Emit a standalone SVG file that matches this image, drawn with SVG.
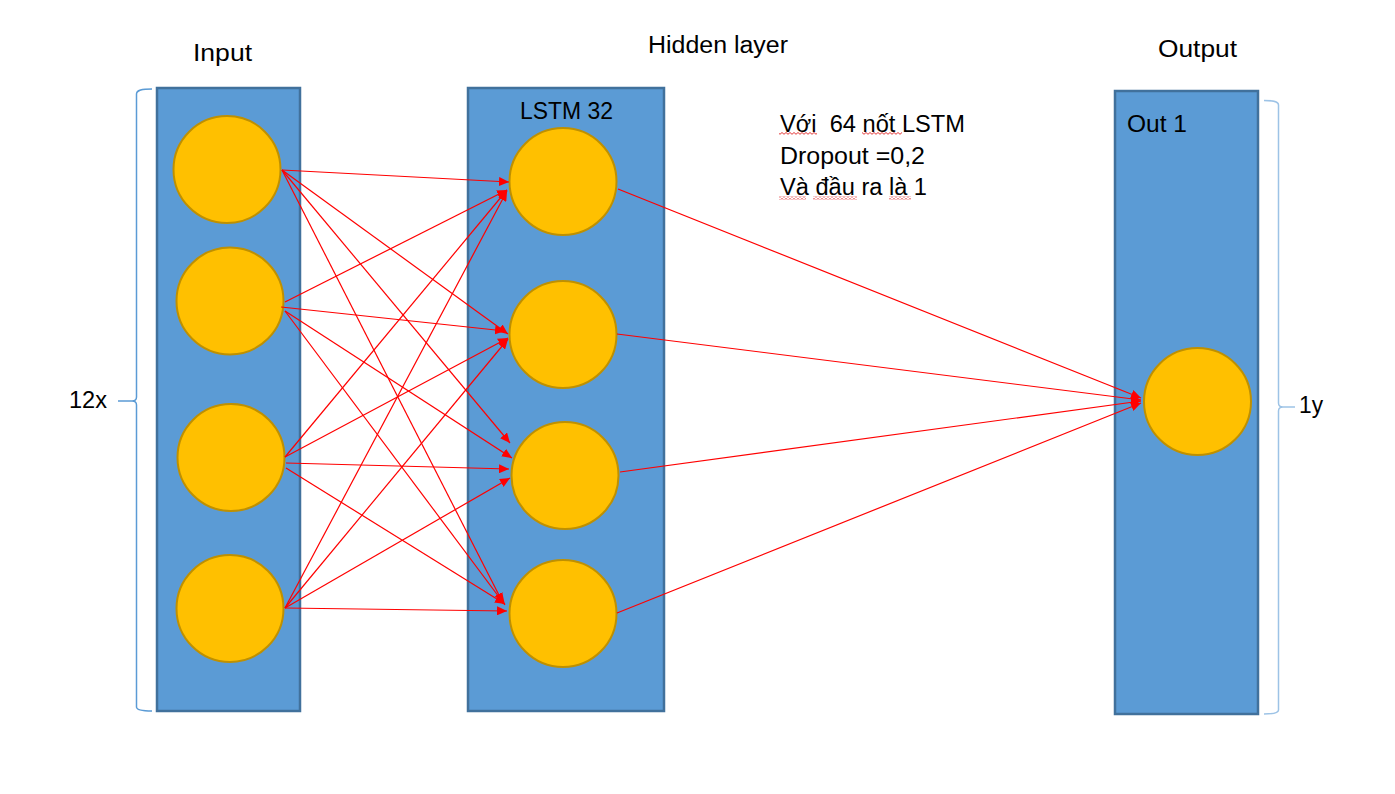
<svg xmlns="http://www.w3.org/2000/svg" width="1395" height="794" viewBox="0 0 1395 794">
<style>
.layer{fill:#5B9BD5;stroke:#41719C;stroke-width:2.5}
.node{fill:#FFC000;stroke:#BF9000;stroke-width:2}
.lbl{font-family:"Liberation Sans",Arial,sans-serif;font-size:23px;fill:#000}
.note{font-family:"Liberation Sans",Arial,sans-serif;font-size:23.5px;fill:#000;white-space:pre}
.edge{stroke:#FF0000;stroke-width:1.2;fill:none;marker-end:url(#arr)}
.brace{fill:none;stroke-width:1.5}
</style>
<defs>
<marker id="arr" markerUnits="userSpaceOnUse" markerWidth="11" markerHeight="9" refX="10" refY="4.5" orient="auto">
<path d="M0,0 L10,4.5 L0,9 z" fill="#FF0000"/>
</marker>
<pattern id="sq" patternUnits="userSpaceOnUse" width="4" height="3">
<path d="M0,2.3 L2,0.5 L4,2.3" fill="none" stroke="#E02020" stroke-width="0.9"/>
</pattern>
</defs>
<rect width="1395" height="794" fill="#FFFFFF"/>

<g id="labels">
<text class="lbl" x="193" y="61" textLength="59" lengthAdjust="spacingAndGlyphs">Input</text>
<text class="lbl" x="648" y="53" textLength="140" lengthAdjust="spacingAndGlyphs">Hidden layer</text>
<text class="lbl" x="1158" y="57" textLength="79" lengthAdjust="spacingAndGlyphs">Output</text>
<text class="lbl" x="69" y="408" textLength="38" lengthAdjust="spacingAndGlyphs">12x</text>
<text class="lbl" x="1299" y="413" textLength="24" lengthAdjust="spacingAndGlyphs">1y</text>
</g>

<g id="braces">
<path class="brace" stroke="#5B9BD5" d="M152,89 C142,89 136.5,90 136.5,94 L136.5,397 C136.5,399.5 135,401 132,401 L118,401 M132,401 C135,401 136.5,402.5 136.5,405 L136.5,707 C136.5,710 142,711 152,711"/>
<path class="brace" stroke="#9DC3E6" d="M1264,100.5 C1274,100.5 1278.5,101.5 1278.5,105 L1278.5,403 C1278.5,405.5 1280,407 1283,407 L1295,407 M1283,407 C1280,407 1278.5,408.5 1278.5,411 L1278.5,710 C1278.5,713 1274,714 1264,714"/>
</g>

<g id="layer-input">
<rect class="layer" x="157" y="88" width="143" height="623"/>
</g>
<g id="layer-hidden">
<rect class="layer" x="468" y="88" width="196" height="623"/>
<text class="lbl" x="520" y="119" textLength="93" lengthAdjust="spacingAndGlyphs">LSTM 32</text>
</g>
<g id="layer-output">
<rect class="layer" x="1115" y="91" width="143" height="623"/>
<text class="lbl" x="1127" y="132" textLength="60" lengthAdjust="spacingAndGlyphs">Out 1</text>
</g>

<g id="in1"><circle class="node" cx="227" cy="169.5" r="53.5"/></g>
<g id="in2"><circle class="node" cx="230" cy="301" r="53.5"/></g>
<g id="in3"><circle class="node" cx="231" cy="457.5" r="53.5"/></g>
<g id="in4"><circle class="node" cx="230" cy="608.5" r="53.5"/></g>

<g id="h1"><circle class="node" cx="563" cy="181.5" r="53.5"/></g>
<g id="h2"><circle class="node" cx="563" cy="334.5" r="53.5"/></g>
<g id="h3"><circle class="node" cx="565" cy="475.5" r="53.5"/></g>
<g id="h4"><circle class="node" cx="563" cy="613.5" r="53.5"/></g>

<g id="out1"><circle class="node" cx="1197.5" cy="401.5" r="53.5"/></g>

<g id="connectors">
<line class="edge" x1="282" y1="170" x2="509" y2="182"/>
<line class="edge" x1="282" y1="170" x2="508" y2="334"/>
<line class="edge" x1="282" y1="170" x2="510" y2="443"/>
<line class="edge" x1="282" y1="170" x2="503" y2="603"/>

<line class="edge" x1="285" y1="302" x2="507" y2="190"/>
<line class="edge" x1="281" y1="307" x2="505" y2="331"/>
<line class="edge" x1="285" y1="311" x2="512" y2="458"/>
<line class="edge" x1="285" y1="311" x2="505" y2="605"/>

<line class="edge" x1="285" y1="457" x2="507" y2="190"/>
<line class="edge" x1="285" y1="457" x2="508" y2="338"/>
<line class="edge" x1="286" y1="463" x2="509" y2="469"/>
<line class="edge" x1="286" y1="468" x2="505" y2="604"/>

<line class="edge" x1="285" y1="608" x2="507" y2="191"/>
<line class="edge" x1="285" y1="608" x2="508" y2="339"/>
<line class="edge" x1="285" y1="608" x2="510" y2="478"/>
<line class="edge" x1="285" y1="608" x2="507" y2="611"/>

<line class="edge" x1="618" y1="189" x2="1141" y2="398"/>
<line class="edge" x1="617" y1="334" x2="1141" y2="400"/>
<line class="edge" x1="620" y1="472" x2="1141" y2="401"/>
<line class="edge" x1="617" y1="613" x2="1141" y2="403"/>
</g>

<g id="note">
<text class="note" x="780" y="131.5" textLength="185" lengthAdjust="spacingAndGlyphs">Với  64 nốt LSTM</text>
<text class="note" x="780" y="163.5" textLength="145" lengthAdjust="spacingAndGlyphs">Dropout =0,2</text>
<text class="note" x="780" y="195" textLength="147" lengthAdjust="spacingAndGlyphs">Và đầu ra là 1</text>
<rect x="779" y="132" width="38" height="3" fill="url(#sq)"/>
<rect x="862" y="132" width="40" height="3" fill="url(#sq)"/>
<rect x="779" y="196.5" width="27" height="3" fill="url(#sq)"/>
<rect x="813" y="196.5" width="44" height="3" fill="url(#sq)"/>
<rect x="889" y="196.5" width="22" height="3" fill="url(#sq)"/>
</g>
</svg>
